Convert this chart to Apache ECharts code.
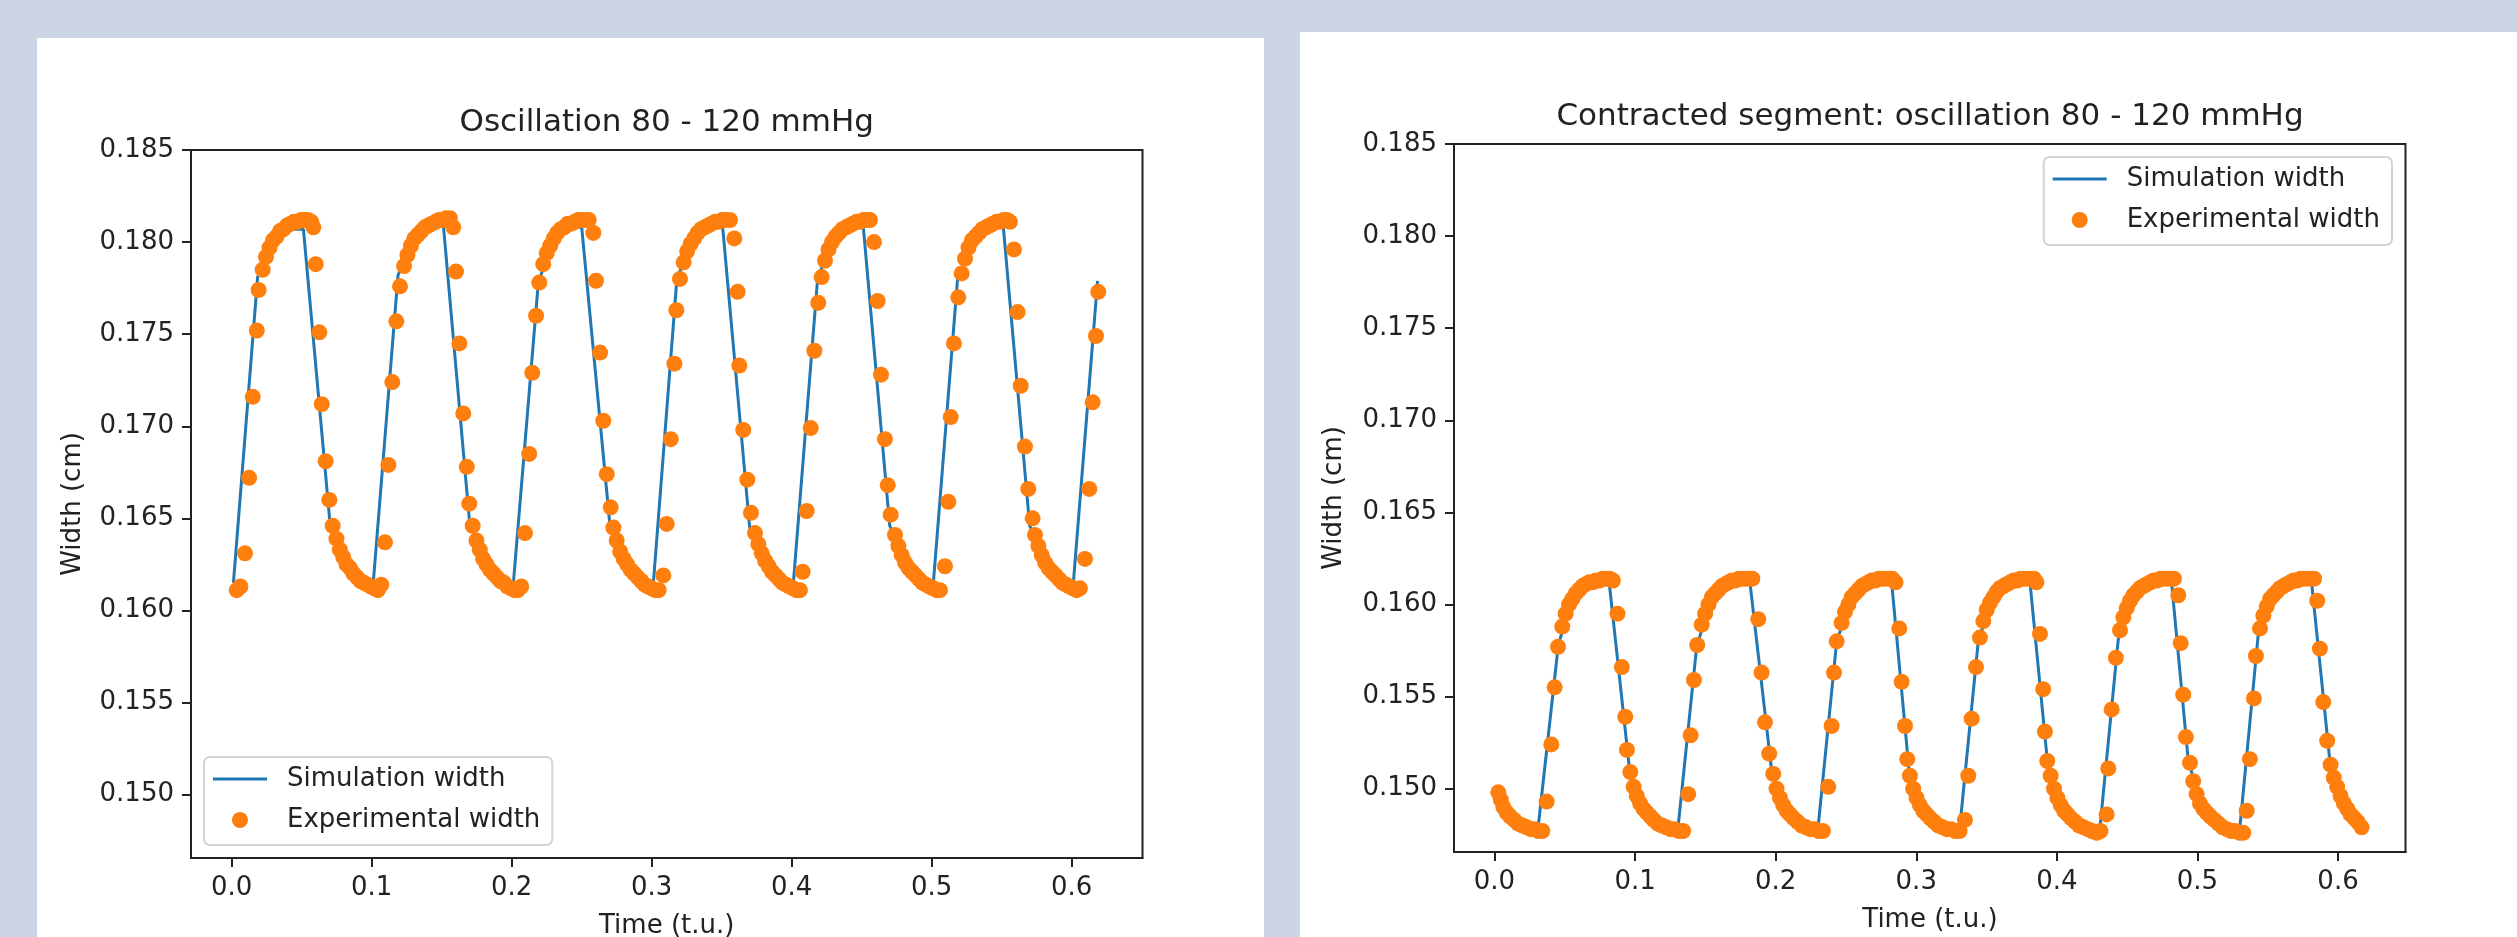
<!DOCTYPE html>
<html>
<head>
<meta charset="utf-8">
<script src="https://cdn.jsdelivr.net/npm/echarts@6/dist/echarts.min.js"></script>
<style>
html,body{margin:0;padding:0;background:#cbd5e6;}
#chart{width:2517px;height:937px;}
</style>
</head>
<body>
<div id="chart"></div>
<script>
// ---------- DATA ----------
const leftTitle = 'Oscillation 80 - 120 mmHg';
const rightTitle = 'Contracted segment: oscillation 80 - 120 mmHg';
const xAxisTitle = 'Time (t.u.)';
const yAxisTitle = 'Width (cm)';
const simName = 'Simulation width';
const expName = 'Experimental width';

const xTicks = [0.0, 0.1, 0.2, 0.3, 0.4, 0.5, 0.6];
const yTicks = [0.150, 0.155, 0.160, 0.165, 0.170, 0.175, 0.180, 0.185];

// left panel: [time, width]
const leftSimulation = [
[0.0012,0.1615],[0.0185,0.1781],[0.0260,0.1794],[0.0345,0.1803],[0.0430,0.1807],[0.0512,0.1807],[0.0700,0.1649],[0.0855,0.1622],
[0.1012,0.1616],[0.1188,0.1782],[0.1262,0.1795],[0.1345,0.1804],[0.1430,0.1808],[0.1512,0.1809],[0.1700,0.1647],[0.1855,0.1621],
[0.2012,0.1615],[0.2190,0.1778],[0.2262,0.1794],[0.2345,0.1804],[0.2430,0.1808],[0.2500,0.1808],[0.2702,0.1646],[0.2855,0.1621],
[0.3012,0.1615],[0.3180,0.1780],[0.3260,0.1795],[0.3345,0.1804],[0.3430,0.1808],[0.3507,0.1808],[0.3700,0.1645],[0.3855,0.1621],
[0.4012,0.1615],[0.4185,0.1780],[0.4260,0.1795],[0.4345,0.1804],[0.4430,0.1808],[0.4512,0.1808],[0.4700,0.1646],[0.4855,0.1621],
[0.5012,0.1615],[0.5185,0.1780],[0.5260,0.1795],[0.5345,0.1804],[0.5430,0.1808],[0.5512,0.1808],[0.5700,0.1646],[0.5855,0.1621],
[0.6012,0.1615],[0.6185,0.1779]
];
const leftExperimental = [
[0.0036,0.1611],[0.0062,0.1613],[0.0095,0.1631],[0.0124,0.1672],[0.0150,0.1716],[0.0179,0.1752],[0.0192,0.1774],[0.0221,0.1785],[0.0245,0.1792],[0.0270,0.1797],[0.0295,0.1801],[0.0320,0.1803],[0.0345,0.1806],[0.0370,0.1807],[0.0395,0.1809],[0.0420,0.1810],[0.0445,0.1811],[0.0470,0.1811],[0.0495,0.1812],[0.0520,0.1812],[0.0545,0.1812],[0.0568,0.1811],[0.0583,0.1808],[0.0600,0.1788],[0.0626,0.1751],[0.0643,0.1712],[0.0671,0.1681],[0.0697,0.1660],[0.0721,0.1646],[0.0748,0.1639],[0.0772,0.1633],[0.0796,0.1629],[0.0820,0.1625],[0.0845,0.1623],[0.0870,0.1620],[0.0895,0.1618],[0.0920,0.1616],[0.0945,0.1615],[0.0970,0.1614],[0.0995,0.1613],[0.1020,0.1612],
[0.1044,0.1611],[0.1068,0.1614],[0.1095,0.1637],[0.1119,0.1679],[0.1147,0.1724],[0.1176,0.1757],[0.1202,0.1776],[0.1231,0.1787],[0.1255,0.1793],[0.1280,0.1798],[0.1305,0.1802],[0.1330,0.1804],[0.1355,0.1806],[0.1380,0.1808],[0.1405,0.1809],[0.1430,0.1810],[0.1455,0.1811],[0.1480,0.1812],[0.1505,0.1812],[0.1530,0.1813],[0.1559,0.1813],[0.1583,0.1808],[0.1602,0.1784],[0.1626,0.1745],[0.1654,0.1707],[0.1679,0.1678],[0.1697,0.1658],[0.1721,0.1646],[0.1748,0.1638],[0.1772,0.1633],[0.1796,0.1628],[0.1820,0.1625],[0.1845,0.1622],[0.1870,0.1620],[0.1895,0.1618],[0.1920,0.1616],[0.1945,0.1615],[0.1970,0.1613],[0.1995,0.1612],[0.2020,0.1611],
[0.2044,0.1611],[0.2068,0.1613],[0.2095,0.1642],[0.2125,0.1685],[0.2147,0.1729],[0.2174,0.1760],[0.2197,0.1778],[0.2225,0.1788],[0.2250,0.1794],[0.2275,0.1798],[0.2300,0.1802],[0.2325,0.1805],[0.2350,0.1807],[0.2375,0.1808],[0.2400,0.1810],[0.2425,0.1810],[0.2450,0.1811],[0.2475,0.1812],[0.2500,0.1812],[0.2525,0.1812],[0.2550,0.1812],[0.2583,0.1805],[0.2602,0.1779],[0.2631,0.1740],[0.2654,0.1703],[0.2679,0.1674],[0.2707,0.1656],[0.2726,0.1645],[0.2750,0.1638],[0.2775,0.1632],[0.2800,0.1628],[0.2825,0.1625],[0.2850,0.1622],[0.2875,0.1620],[0.2900,0.1618],[0.2925,0.1616],[0.2950,0.1614],[0.2975,0.1613],[0.3000,0.1612],[0.3025,0.1611],
[0.3050,0.1611],[0.3083,0.1619],[0.3107,0.1647],[0.3136,0.1693],[0.3162,0.1734],[0.3176,0.1763],[0.3202,0.1780],[0.3228,0.1789],[0.3253,0.1795],[0.3278,0.1799],[0.3303,0.1802],[0.3328,0.1805],[0.3353,0.1807],[0.3378,0.1808],[0.3403,0.1809],[0.3428,0.1810],[0.3453,0.1811],[0.3478,0.1811],[0.3503,0.1812],[0.3528,0.1812],[0.3559,0.1812],[0.3590,0.1802],[0.3614,0.1773],[0.3626,0.1733],[0.3654,0.1698],[0.3683,0.1671],[0.3709,0.1653],[0.3738,0.1642],[0.3762,0.1636],[0.3786,0.1631],[0.3810,0.1627],[0.3835,0.1624],[0.3860,0.1621],[0.3885,0.1619],[0.3910,0.1617],[0.3935,0.1615],[0.3960,0.1614],[0.3985,0.1613],[0.4010,0.1612],[0.4035,0.1611],[0.4059,0.1611],
[0.4078,0.1621],[0.4107,0.1654],[0.4136,0.1699],[0.4162,0.1741],[0.4190,0.1767],[0.4214,0.1781],[0.4238,0.1790],[0.4263,0.1796],[0.4288,0.1800],[0.4313,0.1803],[0.4338,0.1805],[0.4363,0.1807],[0.4388,0.1808],[0.4413,0.1809],[0.4438,0.1810],[0.4463,0.1811],[0.4488,0.1811],[0.4513,0.1812],[0.4538,0.1812],[0.4559,0.1812],[0.4588,0.1800],[0.4614,0.1768],[0.4638,0.1728],[0.4666,0.1693],[0.4686,0.1668],[0.4707,0.1652],[0.4738,0.1641],[0.4762,0.1635],[0.4786,0.1630],[0.4810,0.1626],[0.4835,0.1623],[0.4860,0.1621],[0.4885,0.1619],[0.4910,0.1617],[0.4935,0.1615],[0.4960,0.1614],[0.4985,0.1613],[0.5010,0.1612],[0.5035,0.1611],[0.5059,0.1611],
[0.5095,0.1624],[0.5119,0.1659],[0.5136,0.1705],[0.5159,0.1745],[0.5190,0.1770],[0.5214,0.1783],[0.5238,0.1791],[0.5263,0.1797],[0.5288,0.1801],[0.5313,0.1803],[0.5338,0.1805],[0.5363,0.1807],[0.5388,0.1808],[0.5413,0.1809],[0.5438,0.1810],[0.5463,0.1811],[0.5488,0.1811],[0.5513,0.1812],[0.5538,0.1812],[0.5559,0.1811],[0.5588,0.1796],[0.5614,0.1762],[0.5636,0.1722],[0.5666,0.1689],[0.5690,0.1666],[0.5721,0.1650],[0.5738,0.1641],[0.5762,0.1635],[0.5786,0.1630],[0.5810,0.1626],[0.5835,0.1623],[0.5860,0.1621],[0.5885,0.1619],[0.5910,0.1617],[0.5935,0.1615],[0.5960,0.1614],[0.5985,0.1613],[0.6010,0.1612],[0.6035,0.1611],[0.6059,0.1612],
[0.6095,0.1628],[0.6126,0.1666],[0.6150,0.1713],[0.6174,0.1749],[0.6190,0.1773]
];

// right panel: [time, width]
const rightSimulation = [
[0.0027,0.1497],[0.0150,0.1482],[0.0312,0.1480],[0.0454,0.1578],[0.0540,0.1600],[0.0640,0.1610],[0.0817,0.1611],[0.0964,0.1508],[0.1060,0.1489],[0.1160,0.1481],
[0.1307,0.1480],[0.1438,0.1577],[0.1530,0.1600],[0.1640,0.1610],[0.1817,0.1612],[0.1971,0.1510],[0.2060,0.1489],[0.2160,0.1481],
[0.2303,0.1480],[0.2434,0.1580],[0.2530,0.1601],[0.2640,0.1610],[0.2825,0.1612],[0.2950,0.1509],[0.3040,0.1489],[0.3140,0.1481],
[0.3311,0.1480],[0.3441,0.1580],[0.3530,0.1601],[0.3640,0.1610],[0.3809,0.1612],[0.3939,0.1510],[0.4040,0.1489],[0.4140,0.1481],
[0.4307,0.1479],[0.4437,0.1581],[0.4530,0.1602],[0.4640,0.1610],[0.4816,0.1612],[0.4935,0.1515],[0.5030,0.1491],[0.5130,0.1482],
[0.5302,0.1479],[0.5433,0.1584],[0.5530,0.1603],[0.5640,0.1610],[0.5812,0.1612],[0.5942,0.1515],[0.6040,0.1492],[0.6168,0.1479]
];
const rightExperimental = [
[0.0027,0.1498],[0.0045,0.1494],[0.0063,0.1490],[0.0087,0.1487],[0.0110,0.1485],[0.0140,0.1483],[0.0169,0.1481],[0.0199,0.1480],[0.0229,0.1479],[0.0258,0.1478],[0.0288,0.1478],[0.0312,0.1477],[0.0340,0.1477],
[0.0371,0.1493],[0.0404,0.1524],[0.0428,0.1555],[0.0452,0.1577],[0.0482,0.1588],
[0.0506,0.1595],[0.0530,0.1600],[0.0554,0.1603],[0.0578,0.1606],[0.0602,0.1608],[0.0626,0.1610],[0.0650,0.1611],[0.0674,0.1612],[0.0698,0.1612],[0.0722,0.1613],[0.0746,0.1613],[0.0770,0.1614],[0.0794,0.1614],[0.0818,0.1614],[0.0842,0.1613],
[0.0875,0.1595],[0.0906,0.1566],[0.0930,0.1539],[0.0942,0.1521],[0.0966,0.1509],
[0.0990,0.1501],[0.1012,0.1496],[0.1036,0.1492],[0.1060,0.1489],[0.1084,0.1487],[0.1108,0.1485],[0.1132,0.1483],[0.1162,0.1481],[0.1192,0.1480],[0.1222,0.1479],[0.1252,0.1478],[0.1282,0.1478],[0.1312,0.1477],[0.1342,0.1477],
[0.1378,0.1497],[0.1395,0.1529],[0.1419,0.1559],[0.1442,0.1578],[0.1474,0.1589],
[0.1498,0.1595],[0.1522,0.1600],[0.1546,0.1604],[0.1570,0.1606],[0.1594,0.1608],[0.1618,0.1610],[0.1642,0.1611],[0.1666,0.1612],[0.1690,0.1613],[0.1714,0.1613],[0.1738,0.1614],[0.1762,0.1614],[0.1786,0.1614],[0.1810,0.1614],[0.1834,0.1614],
[0.1876,0.1592],[0.1900,0.1563],[0.1924,0.1536],[0.1954,0.1519],[0.1983,0.1508],
[0.2006,0.1500],[0.2030,0.1495],[0.2054,0.1491],[0.2078,0.1488],[0.2102,0.1486],[0.2126,0.1484],[0.2156,0.1482],[0.2186,0.1480],[0.2216,0.1479],[0.2246,0.1478],[0.2276,0.1478],[0.2306,0.1477],[0.2336,0.1477],
[0.2374,0.1501],[0.2398,0.1534],[0.2415,0.1563],[0.2434,0.1580],[0.2469,0.1590],
[0.2493,0.1596],[0.2517,0.1600],[0.2541,0.1604],[0.2565,0.1606],[0.2589,0.1608],[0.2613,0.1610],[0.2637,0.1611],[0.2661,0.1612],[0.2685,0.1613],[0.2709,0.1613],[0.2733,0.1614],[0.2757,0.1614],[0.2781,0.1614],[0.2805,0.1614],[0.2829,0.1614],[0.2853,0.1612],
[0.2879,0.1587],[0.2896,0.1558],[0.2920,0.1534],[0.2936,0.1516],[0.2955,0.1507],
[0.2978,0.1500],[0.3002,0.1495],[0.3026,0.1491],[0.3050,0.1488],[0.3074,0.1486],[0.3098,0.1484],[0.3128,0.1482],[0.3158,0.1480],[0.3188,0.1479],[0.3218,0.1478],[0.3248,0.1478],[0.3278,0.1477],[0.3308,0.1477],
[0.3346,0.1483],[0.3370,0.1507],[0.3394,0.1538],[0.3425,0.1566],[0.3453,0.1582],
[0.3477,0.1591],[0.3501,0.1597],[0.3525,0.1601],[0.3549,0.1604],[0.3573,0.1607],[0.3597,0.1609],[0.3621,0.1610],[0.3645,0.1611],[0.3669,0.1612],[0.3693,0.1613],[0.3717,0.1613],[0.3741,0.1614],[0.3765,0.1614],[0.3789,0.1614],[0.3813,0.1614],[0.3837,0.1614],[0.3855,0.1612],
[0.3880,0.1584],[0.3903,0.1554],[0.3915,0.1531],[0.3932,0.1515],[0.3956,0.1507],
[0.3980,0.1500],[0.4004,0.1495],[0.4028,0.1491],[0.4052,0.1488],[0.4076,0.1486],[0.4100,0.1484],[0.4130,0.1482],[0.4160,0.1480],[0.4190,0.1479],[0.4220,0.1478],[0.4250,0.1477],[0.4283,0.1476],[0.4310,0.1477],
[0.4354,0.1486],[0.4366,0.1511],[0.4390,0.1543],[0.4420,0.1571],[0.4449,0.1586],
[0.4473,0.1593],[0.4497,0.1598],[0.4521,0.1602],[0.4545,0.1605],[0.4569,0.1607],[0.4593,0.1609],[0.4617,0.1610],[0.4641,0.1611],[0.4665,0.1612],[0.4689,0.1613],[0.4713,0.1613],[0.4737,0.1614],[0.4761,0.1614],[0.4785,0.1614],[0.4809,0.1614],[0.4833,0.1614],
[0.4864,0.1605],[0.4881,0.1579],[0.4899,0.1551],[0.4918,0.1528],[0.4947,0.1514],
[0.4970,0.1504],[0.4994,0.1497],[0.5018,0.1492],[0.5042,0.1489],[0.5066,0.1487],[0.5090,0.1485],[0.5120,0.1483],[0.5150,0.1481],[0.5180,0.1479],[0.5210,0.1478],[0.5240,0.1477],[0.5270,0.1477],[0.5300,0.1476],[0.5326,0.1476],
[0.5350,0.1488],[0.5373,0.1516],[0.5402,0.1549],[0.5416,0.1572],[0.5445,0.1587],
[0.5469,0.1594],[0.5493,0.1599],[0.5517,0.1603],[0.5541,0.1605],[0.5565,0.1607],[0.5589,0.1609],[0.5613,0.1610],[0.5637,0.1611],[0.5661,0.1612],[0.5685,0.1613],[0.5709,0.1613],[0.5733,0.1614],[0.5757,0.1614],[0.5781,0.1614],[0.5805,0.1614],[0.5830,0.1614],
[0.5852,0.1602],[0.5871,0.1576],[0.5895,0.1547],[0.5923,0.1526],[0.5947,0.1513],
[0.5970,0.1506],[0.5994,0.1501],[0.6018,0.1496],[0.6042,0.1492],[0.6066,0.1489],[0.6090,0.1486],[0.6115,0.1484],[0.6140,0.1482],[0.6168,0.1479]
];

// ---------- STYLE / LAYOUT ----------
const FONT = 'DejaVu Sans';
const TXT = '#222222';
const BLUE = '#1f77b4';
const ORANGE = '#ff7f0e';
const yMin = 0.14656, yMax = 0.185;

const panels = [
  {grid: {left: 191, top: 150, width: 951.5, height: 708}, xMin: -0.0291, xMax: 0.6506},
  {grid: {left: 1454, top: 144, width: 951.5, height: 708}, xMin: -0.0288, xMax: 0.6480}
];

function xAxisCfg(i) {
  return {
    type: 'value', gridIndex: i, min: panels[i].xMin, max: panels[i].xMax,
    axisLine: {show: true, onZero: false, lineStyle: {color: TXT, width: 2}},
    axisTick: {show: true, length: 9, customValues: xTicks, lineStyle: {color: TXT, width: 2}},
    axisLabel: {customValues: xTicks, formatter: v => v.toFixed(1), fontSize: 26, fontFamily: FONT, color: TXT, margin: 17},
    splitLine: {show: false}
  };
}
function yAxisCfg(i) {
  return {
    type: 'value', gridIndex: i, min: yMin, max: yMax,
    axisLine: {show: true, onZero: false, lineStyle: {color: TXT, width: 2}},
    axisTick: {show: true, length: 9, customValues: yTicks, lineStyle: {color: TXT, width: 2}},
    axisLabel: {customValues: yTicks, formatter: v => v.toFixed(3), fontSize: 26, fontFamily: FONT, color: TXT, margin: 17},
    splitLine: {show: false}
  };
}
function legendCfg(pos) {
  return Object.assign({
    orient: 'vertical',
    data: [{name: simName, icon: 'path://M0 0H54V3H0Z'}, {name: expName, icon: 'circle'}],
    itemWidth: 54, itemHeight: 16, itemGap: 15,
    padding: [9, 12, 12, 9],
    backgroundColor: '#ffffff', borderColor: '#d4d4d4', borderWidth: 2, borderRadius: 6,
    itemStyle: {borderWidth: 0},
    selectedMode: false,
    textStyle: {fontSize: 26, fontFamily: FONT, color: TXT, padding: [0, 0, 0, 15]}
  }, pos);
}
function textEl(x, y, text, size, rot) {
  return {
    type: 'text', x: x, y: y, rotation: rot || 0, z: 100, silent: true,
    style: {text: text, fontSize: size, fontFamily: FONT, fill: TXT,
            textAlign: 'center', textVerticalAlign: 'middle', align: 'center', verticalAlign: 'middle'}
  };
}

const option = {
  animation: false,
  backgroundColor: '#cbd5e6',
  graphic: [
    {type: 'rect', shape: {x: 37, y: 38, width: 1227, height: 899}, style: {fill: '#ffffff'}, z: -100, silent: true},
    {type: 'rect', shape: {x: 1300, y: 32, width: 1217, height: 905}, style: {fill: '#ffffff'}, z: -100, silent: true},
    textEl(666.7, 123, leftTitle, 31),
    textEl(1930, 117, rightTitle, 31),
    textEl(666.7, 926, xAxisTitle, 26),
    textEl(1930, 920, xAxisTitle, 26),
    textEl(73, 504, yAxisTitle, 26, Math.PI / 2),
    textEl(1334, 498, yAxisTitle, 26, Math.PI / 2)
  ],
  grid: panels.map(p => Object.assign({show: true, borderColor: TXT, borderWidth: 2, backgroundColor: 'transparent', containLabel: false}, p.grid)),
  xAxis: [xAxisCfg(0), xAxisCfg(1)],
  yAxis: [yAxisCfg(0), yAxisCfg(1)],
  legend: [
    legendCfg({left: 204, top: 757}),
    legendCfg({right: 125, top: 157})
  ],
  series: [
    {type: 'line', name: simName, xAxisIndex: 0, yAxisIndex: 0, data: leftSimulation, symbol: 'none',
     lineStyle: {color: BLUE, width: 3}, itemStyle: {color: BLUE, borderWidth: 0}, z: 2},
    {type: 'scatter', name: expName, xAxisIndex: 0, yAxisIndex: 0, data: leftExperimental, symbol: 'circle', symbolSize: 16,
     itemStyle: {color: ORANGE, opacity: 1}, z: 3},
    {type: 'line', name: simName, xAxisIndex: 1, yAxisIndex: 1, data: rightSimulation, symbol: 'none',
     lineStyle: {color: BLUE, width: 3}, itemStyle: {color: BLUE, borderWidth: 0}, z: 2},
    {type: 'scatter', name: expName, xAxisIndex: 1, yAxisIndex: 1, data: rightExperimental, symbol: 'circle', symbolSize: 16,
     itemStyle: {color: ORANGE, opacity: 1}, z: 3}
  ]
};

const chart = echarts.init(document.getElementById('chart'), null, {renderer: 'canvas', width: 2517, height: 937});
chart.setOption(option);
</script>
</body>
</html>
